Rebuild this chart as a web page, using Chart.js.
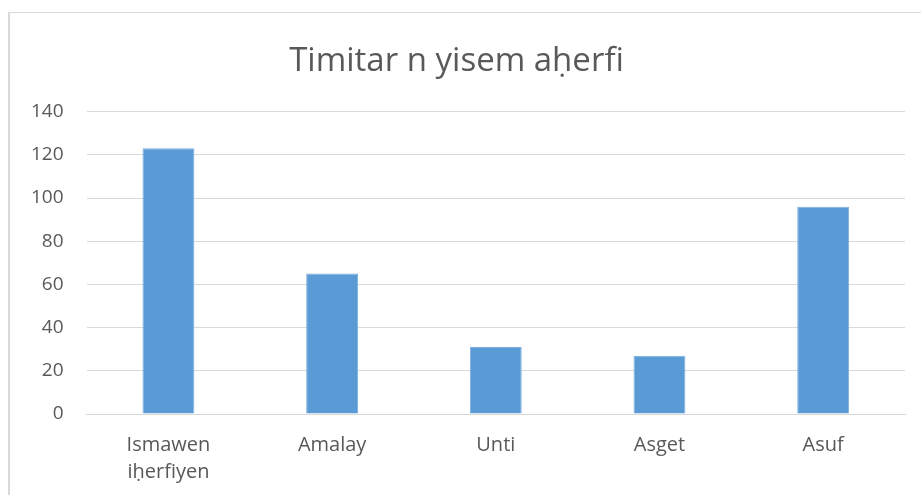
<!DOCTYPE html>
<html>
<head>
<meta charset="utf-8">
<script src="https://cdn.jsdelivr.net/npm/chart.js@4/dist/chart.umd.min.js"></script>
<style>
    html, body { margin: 0; padding: 0; background: #fff; }
    #wrap { position: relative; width: 921px; height: 495px; overflow: hidden; }
    #frame {
        position: absolute; left: 8px; top: 12px; width: 1000px; height: 600px;
        border-left: 2px solid #d9d9d9; border-top: 1px solid #d9d9d9;
    }
    #myChart { position: absolute; left: 0; top: 0; }
</style>
</head>
<body>
<div id="wrap">
    <div id="frame"></div>
    <canvas id="myChart" width="921" height="495"></canvas>
</div>
<script>
const chartTitle = 'Timitar n yisem aḥerfi';
const categories = [['Ismawen', 'iḥerfiyen'], 'Amalay', 'Unti', 'Asget', 'Asuf'];
const values = [123, 65, 31, 27, 96];
const yTicks = [0, 20, 40, 60, 80, 100, 120, 140];

const ctx = document.getElementById('myChart');

new Chart(ctx, {
    type: 'bar',
    data: {
        labels: categories,
        datasets: [{
            label: chartTitle,
            data: values,
            backgroundColor: '#5b9bd5',
            borderColor: '#7eb0de',
            borderWidth: 1,
            barPercentage: 1,
            categoryPercentage: 0.317
        }]
    },
    options: {
        responsive: false,
        animation: false,
        layout: {
            padding: { left: 8, right: 16, top: 42, bottom: -1 }
        },
        plugins: {
            legend: { display: false },
            tooltip: { enabled: false },
            title: {
                display: true,
                text: chartTitle,
                color: '#595959',
                font: { family: 'Open Sans', size: 33, weight: 'normal' },
                padding: { top: 0, bottom: 30 }
            }
        },
        scales: {
            x: {
                grid: { display: false },
                border: { color: '#d9d9d9', width: 1 },
                ticks: {
                    color: '#595959',
                    font: { family: 'Open Sans', size: 20, lineHeight: 1.35 },
                    padding: 10,
                    maxRotation: 0
                }
            },
            y: {
                min: 0,
                max: 140,
                afterBuildTicks: axis => {
                    axis.ticks = yTicks.map(v => ({ value: v }));
                },
                grid: { color: '#d9d9d9', lineWidth: 1, drawTicks: false },
                border: { display: false },
                ticks: {
                    color: '#595959',
                    font: { family: 'Open Sans', size: 19 },
                    padding: 23
                }
            }
        }
    }
});
</script>
</body>
</html>
